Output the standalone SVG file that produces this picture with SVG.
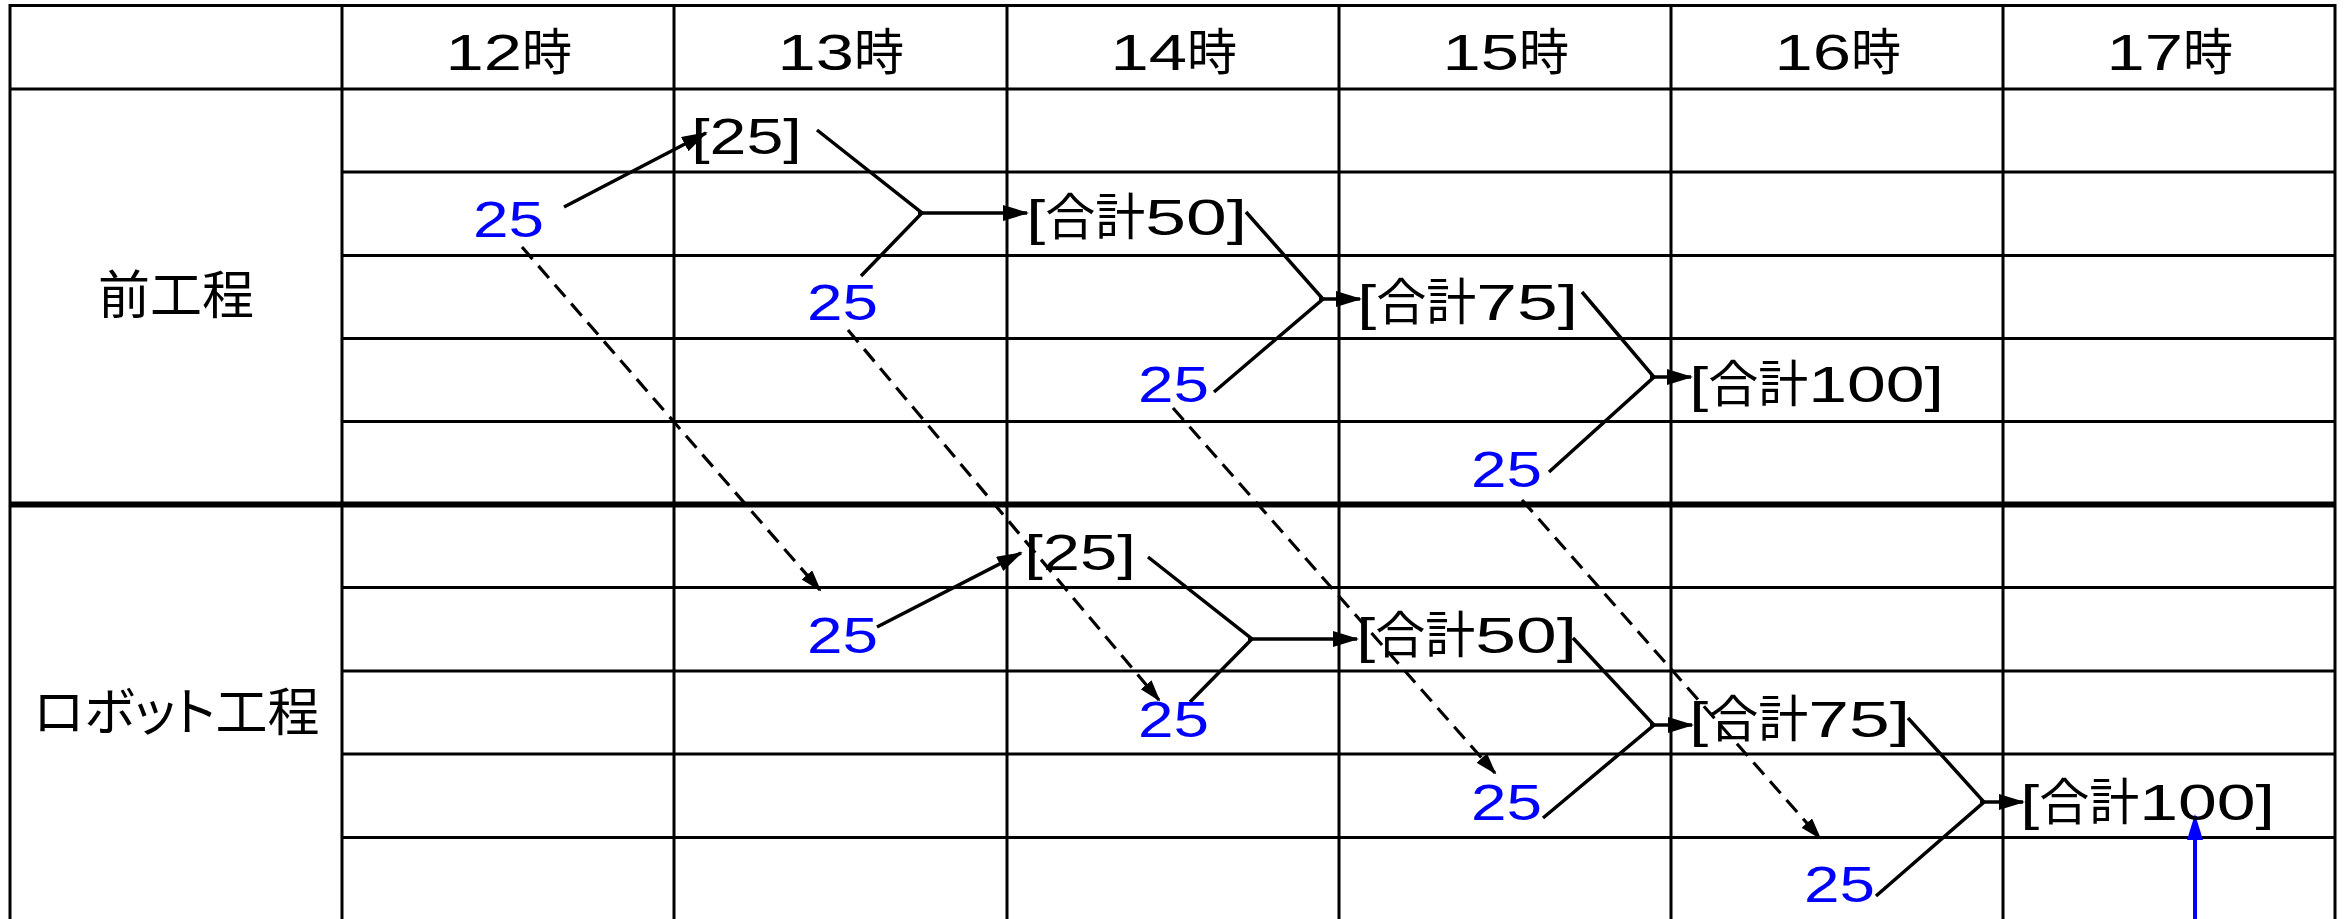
<svg xmlns="http://www.w3.org/2000/svg" width="2348" height="919" viewBox="0 0 2348 919">
<style>
.grid{stroke:#000;stroke-width:3;fill:none}
.thick{stroke:#000;stroke-width:6;fill:none}
.t{font-family:"Liberation Sans","Noto Sans CJK JP",sans-serif;font-size:50px;fill:#000}
.lbl{font-family:"Noto Sans CJK JP",sans-serif;font-size:52px;fill:#000;text-anchor:middle}
.b{fill:#0000ff}
.conn{stroke:#000;stroke-width:3.5;fill:none}
.arr{marker-end:url(#ah)}
.dash{stroke-width:3.2;stroke-dasharray:16 9;marker-end:url(#ahd)}
</style>
<defs>
<marker id="ah" markerUnits="userSpaceOnUse" markerWidth="28" markerHeight="18" refX="24" refY="8" orient="auto"><path d="M0,0 L26,8 L0,16 z" fill="#000"/></marker>
<marker id="ahd" markerUnits="userSpaceOnUse" markerWidth="24" markerHeight="16" refX="20" refY="7" orient="auto"><path d="M0,0 L22,7 L0,14 z" fill="#000"/></marker>
<marker id="ahb" markerUnits="userSpaceOnUse" markerWidth="28" markerHeight="18" refX="24" refY="8" orient="auto"><path d="M0,0 L26,8 L0,16 z" fill="#0000ff"/></marker>
</defs>
<rect width="2348" height="919" fill="#fff"/>
<g id="grid">
<line class="grid" x1="10" y1="5.5" x2="2335" y2="5.5"/>
<line class="grid" x1="10" y1="89" x2="2335" y2="89"/>
<line class="grid" x1="342" y1="172" x2="2335" y2="172"/>
<line class="grid" x1="342" y1="255.5" x2="2335" y2="255.5"/>
<line class="grid" x1="342" y1="338.5" x2="2335" y2="338.5"/>
<line class="grid" x1="342" y1="421.5" x2="2335" y2="421.5"/>
<line class="thick" x1="10" y1="504.5" x2="2335" y2="504.5"/>
<line class="grid" x1="342" y1="587.5" x2="2335" y2="587.5"/>
<line class="grid" x1="342" y1="671" x2="2335" y2="671"/>
<line class="grid" x1="342" y1="754" x2="2335" y2="754"/>
<line class="grid" x1="342" y1="837.5" x2="2335" y2="837.5"/>
<line class="grid" x1="10" y1="4" x2="10" y2="919"/>
<line class="grid" x1="342" y1="4" x2="342" y2="919"/>
<line class="grid" x1="674" y1="4" x2="674" y2="919"/>
<line class="grid" x1="1007" y1="4" x2="1007" y2="919"/>
<line class="grid" x1="1339" y1="4" x2="1339" y2="919"/>
<line class="grid" x1="1671" y1="4" x2="1671" y2="919"/>
<line class="grid" x1="2003" y1="4" x2="2003" y2="919"/>
<line class="grid" x1="2335" y1="4" x2="2335" y2="919"/>
</g>
<g id="headers">
<text id="h12" class="t" x="445.5" y="70"><tspan textLength="76.5" lengthAdjust="spacingAndGlyphs">12</tspan>時</text>
<text id="h13" class="t" x="777.5" y="70"><tspan textLength="76.5" lengthAdjust="spacingAndGlyphs">13</tspan>時</text>
<text id="h14" class="t" x="1110.5" y="70"><tspan textLength="76.5" lengthAdjust="spacingAndGlyphs">14</tspan>時</text>
<text id="h15" class="t" x="1442.5" y="70"><tspan textLength="76.5" lengthAdjust="spacingAndGlyphs">15</tspan>時</text>
<text id="h16" class="t" x="1774.5" y="70"><tspan textLength="76.5" lengthAdjust="spacingAndGlyphs">16</tspan>時</text>
<text id="h17" class="t" x="2106.5" y="70"><tspan textLength="76.5" lengthAdjust="spacingAndGlyphs">17</tspan>時</text>
</g>
<g id="row-labels">
<text id="lbl-mae" class="lbl" x="176" y="314">前工程</text>
<text id="lbl-robot" class="lbl" x="176.5" y="731" style="font-feature-settings:'palt'">ロボット工程</text>
</g>
<g id="connectors">
<line class="conn arr" x1="564" y1="207" x2="706" y2="133"/>
<polyline class="conn" points="817,130 922,213 861,276"/>
<line class="conn arr" x1="918" y1="213" x2="1027" y2="213"/>
<polyline class="conn" points="1246,212 1323,299 1214,392"/>
<line class="conn arr" x1="1319" y1="299" x2="1360" y2="299"/>
<polyline class="conn" points="1582,292 1654,377 1549,472"/>
<line class="conn arr" x1="1650" y1="377" x2="1691" y2="377"/>
<line class="conn arr" x1="877" y1="627" x2="1021" y2="553"/>
<polyline class="conn" points="1148,557 1252,639 1190,702"/>
<line class="conn arr" x1="1248" y1="639" x2="1357" y2="639"/>
<polyline class="conn" points="1573,638 1654,725 1543,818"/>
<line class="conn arr" x1="1650" y1="725" x2="1692" y2="725"/>
<polyline class="conn" points="1908,718 1984,802 1876,896"/>
<line class="conn arr" x1="1980" y1="802" x2="2023" y2="802"/>
<line class="conn dash" x1="522" y1="247" x2="820" y2="590"/>
<line class="conn dash" x1="848" y1="330" x2="1159" y2="700"/>
<line class="conn dash" x1="1173" y1="408" x2="1495" y2="773"/>
<line class="conn dash" x1="1522" y1="500" x2="1820" y2="838"/>
<line x1="2195" y1="919" x2="2195" y2="816" stroke="#0000ff" stroke-width="4" marker-end="url(#ahb)"/>
</g>
<g id="mae-nodes">
<text id="m-r0" class="t" x="691.2" y="154" textLength="110.6" lengthAdjust="spacingAndGlyphs">[25]</text>
<text id="m-b1" class="t b" x="473" y="237" textLength="71" lengthAdjust="spacingAndGlyphs">25</text>
<text id="m-s50" class="t" x="1026.2" y="235"><tspan textLength="19" lengthAdjust="spacingAndGlyphs">[</tspan>合計<tspan textLength="101.8" lengthAdjust="spacingAndGlyphs">50]</tspan></text>
<text id="m-b2" class="t b" x="807" y="320" textLength="71" lengthAdjust="spacingAndGlyphs">25</text>
<text id="m-s75" class="t" x="1357.2" y="320"><tspan textLength="19" lengthAdjust="spacingAndGlyphs">[</tspan>合計<tspan textLength="101.8" lengthAdjust="spacingAndGlyphs">75]</tspan></text>
<text id="m-b3" class="t b" x="1138" y="402" textLength="71" lengthAdjust="spacingAndGlyphs">25</text>
<text id="m-s100" class="t" x="1689.2" y="402"><tspan textLength="19" lengthAdjust="spacingAndGlyphs">[</tspan>合計<tspan textLength="135.8" lengthAdjust="spacingAndGlyphs">100]</tspan></text>
<text id="m-b4" class="t b" x="1471" y="487" textLength="71" lengthAdjust="spacingAndGlyphs">25</text>
</g>
<g id="robot-nodes">
<text id="r-r0" class="t" x="1024.2" y="570" textLength="111.6" lengthAdjust="spacingAndGlyphs">[25]</text>
<text id="r-b1" class="t b" x="807" y="653" textLength="71" lengthAdjust="spacingAndGlyphs">25</text>
<text id="r-s50" class="t" x="1356.2" y="653"><tspan textLength="19" lengthAdjust="spacingAndGlyphs">[</tspan>合計<tspan textLength="101.8" lengthAdjust="spacingAndGlyphs">50]</tspan></text>
<text id="r-b2" class="t b" x="1138" y="737" textLength="71" lengthAdjust="spacingAndGlyphs">25</text>
<text id="r-s75" class="t" x="1689.2" y="737"><tspan textLength="19" lengthAdjust="spacingAndGlyphs">[</tspan>合計<tspan textLength="101.8" lengthAdjust="spacingAndGlyphs">75]</tspan></text>
<text id="r-b3" class="t b" x="1471" y="820" textLength="71" lengthAdjust="spacingAndGlyphs">25</text>
<text id="r-s100" class="t" x="2020.2" y="820"><tspan textLength="19" lengthAdjust="spacingAndGlyphs">[</tspan>合計<tspan textLength="135.8" lengthAdjust="spacingAndGlyphs">100]</tspan></text>
<text id="r-b4" class="t b" x="1804" y="902" textLength="71" lengthAdjust="spacingAndGlyphs">25</text>
</g>
</svg>
